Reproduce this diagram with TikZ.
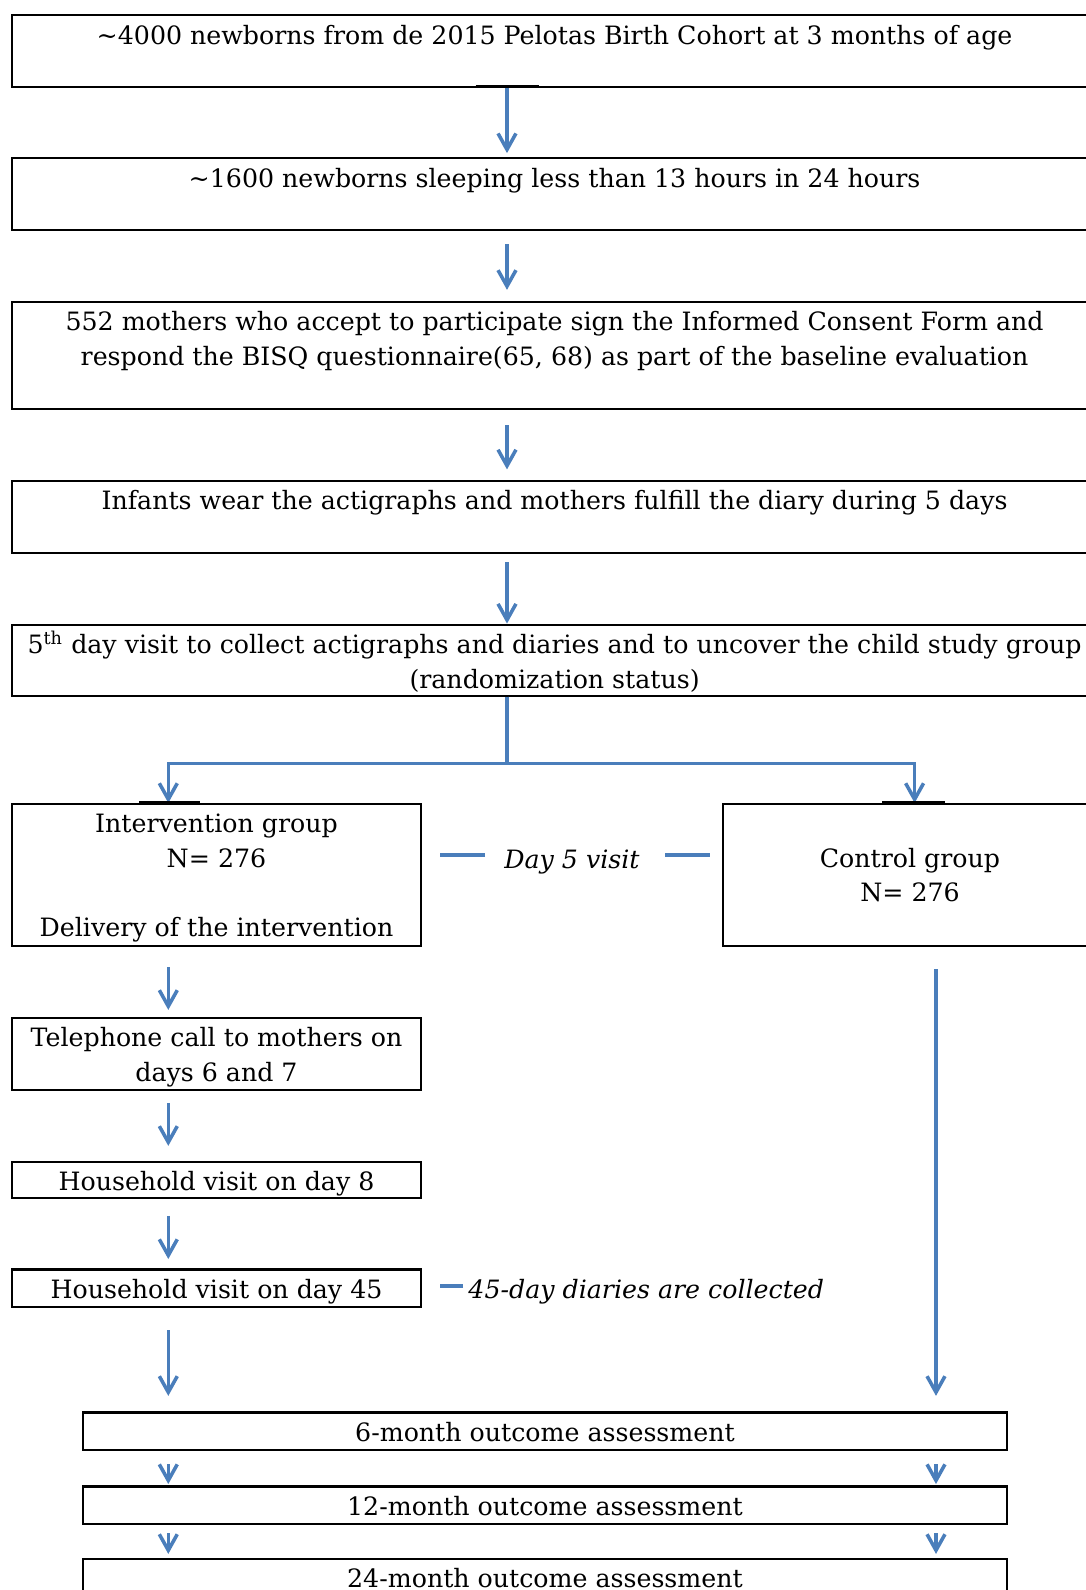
\documentclass[tikz,border=0pt]{standalone}
\usepackage{fontspec}
\setmainfont{DejaVu Serif}
\usetikzlibrary{positioning,arrows.meta,fit}
\definecolor{flowblue}{HTML}{4A7EBB}
\newcommand{\boxfont}{\fontsize{10.7}{14.6}\selectfont}
\tikzset{
  box/.style  ={draw=black, line width=0.9pt, inner sep=0pt},
  txt/.style  ={font=\boxfont, align=center, inner sep=0pt,
                execute at begin node=\strut},
  note/.style ={font=\boxfont\itshape, inner sep=0pt, anchor=base west},
  flow/.style ={-{Straight Barb[length=6.8pt,width=7.6pt]}, draw=flowblue,
                line width=1.5pt},
  tick/.style ={draw=flowblue, line width=1.8pt},
  stub/.style ={draw=black, line width=1.2pt},
}

\begin{document}
\begin{tikzpicture}[x=0.4236pt, y=-0.4236pt]
\clip (0,0) rectangle (1086,1590);

% ---------------------------------------------------------------- columns
\coordinate (spine)  at (507,0);
\coordinate (lcol)   at (168.3,0);
\coordinate (rsplit) at (914.6,0);
\coordinate (rcol)   at (936,0);

% ---------------------------------------------------------------- recruitment
\node[box, fit={(12.2,15.2) (1097,87.2)}] (cohort) {};
\node[txt, below=2.3pt of cohort.north] (cohorttxt)
  {\textasciitilde4000 newborns from de 2015 Pelotas Birth Cohort at 3 months of age};

\node[box, fit={(12.2,158.2) (1097,230.2)}] (short) {};
\node[txt, below=2.3pt of short.north] (shorttxt)
  {\textasciitilde1600 newborns sleeping less than 13 hours in 24 hours};

\node[box, fit={(12.2,302) (1097,408.6)}] (consent) {};
\node[txt, below=2.3pt of consent.north] (consenttxt)
  {\strut 552 mothers who accept to participate sign the Informed Consent Form and\\
   respond the BISQ questionnaire(65, 68) as part of the baseline evaluation};

\node[box, fit={(12.2,480.6) (1097,552.6)}] (acti) {};
\node[txt, below=2.3pt of acti.north] (actitxt)
  {Infants wear the actigraphs and mothers fulfill the diary during 5 days};

\node[box, fit={(12.2,624.6) (1097,695.6)}] (visit5) {};
\node[txt, below=2.3pt of visit5.north] (visit5txt)
  {\strut 5\textsuperscript{th} day visit to collect actigraphs and diaries and to uncover the child study group\\
   (randomization status)};

% ---------------------------------------------------------------- groups
\node[box, fit={(12.2,804) (420.8,946)}] (interv) {};
\node[txt, below=2.3pt of interv.north] (intervtxt)
  {\strut Intervention group\\N= 276\\[14.6pt]Delivery of the intervention};

\node[box, fit={(723,804) (1097,946)}] (ctrl) {};
\node[txt, below=2.3pt of ctrl.north] (ctrltxt)
  {\strut\\Control group\\N= 276};

\node[note, anchor=base] (day5) at (572,868) {Day 5 visit};
\draw[tick] ([xshift=-8pt, yshift=5.5pt]day5.base west) -- ++(-45,0);
\draw[tick] ([xshift=10.6pt, yshift=5.5pt]day5.base east) -- ++(45,0);

% ---------------------------------------------------------------- intervention arm
\node[box, fit={(12.2,1018) (420.8,1090)}] (phone) {};
\node[txt, below=2.3pt of phone.north] (phonetxt)
  {\strut Telephone call to mothers on\\days 6 and 7};

\node[box, fit={(12.2,1162) (420.8,1197.6)}] (home8) {};
\node[txt, below=2.3pt of home8.north] (home8txt) {Household visit on day 8};

\node[box, fit={(12.2,1269.5) (420.8,1307)}] (home45) {};
\node[txt, below=2.3pt of home45.north] (home45txt) {Household visit on day 45};

\node[note] (diaries) at (468,1298) {45-day diaries are collected};
\draw[tick] ([xshift=-2.1pt, yshift=5pt]diaries.base west) -- ++(-23,0);

% ---------------------------------------------------------------- outcomes
\node[box, fit={(83,1412.5) (1007,1450)}] (m6) {};
\node[txt, below=2.3pt of m6.north] (m6txt) {6-month outcome assessment};

\node[box, fit={(83,1486.5) (1007,1524)}] (m12) {};
\node[txt, below=2.3pt of m12.north] (m12txt) {12-month outcome assessment};

\node[box, fit={(83,1559) (1007,1597)}] (m24) {};
\node[txt, below=2.3pt of m24.north] (m24txt) {24-month outcome assessment};

% ---------------------------------------------------------------- edges
\draw[flow, shorten >=1.7pt] (cohort.south -| spine) -- (short.north -| spine);
\draw[flow, shorten <=5.5pt, shorten >=4.7pt] (short.south -| spine) -- (consent.north -| spine);
\draw[flow, shorten <=6.5pt, shorten >=4.3pt] (consent.south -| spine) -- (acti.north -| spine);
\draw[flow, shorten <=3.6pt] (acti.south -| spine) -- (visit5.north -| spine);

\draw[flow] (visit5.south -| spine) -- ++(0,67) -| (interv.north -| lcol);
\draw[flow] (visit5.south -| spine) -- ++(0,67) -| (ctrl.north -| rsplit);

\draw[flow, shorten <=8.5pt, shorten >=3pt] (interv.south -| lcol) -- (phone.north -| lcol);
\draw[flow, shorten <=5pt, shorten >=6.4pt] (phone.south -| lcol) -- (home8.north -| lcol);
\draw[flow, shorten <=7.3pt, shorten >=4pt] (home8.south -| lcol) -- (home45.north -| lcol);
\draw[flow, shorten <=9.3pt, shorten >=6.6pt] (home45.south -| lcol) -- (m6.north -| lcol);
\draw[flow, shorten <=9.3pt, shorten >=6.6pt] (ctrl.south -| rcol) -- (m6.north -| rcol);

\foreach \col in {lcol, rcol} {
  \draw[flow, shorten <=5.5pt, shorten >=0.6pt] (m6.south -| \col) -- (m12.north -| \col);
  \draw[flow, shorten <=3.4pt, shorten >=1.7pt] (m12.south -| \col) -- (m24.north -| \col);
}

% leftover text-box edges
\draw[stub] (475.5,86.5) -- (538.5,86.5);
\draw[stub, line width=0.9pt] (139,802) -- (200,802);
\draw[stub, line width=0.9pt] (882,802) -- (945,802);

\end{tikzpicture}
\end{document}
